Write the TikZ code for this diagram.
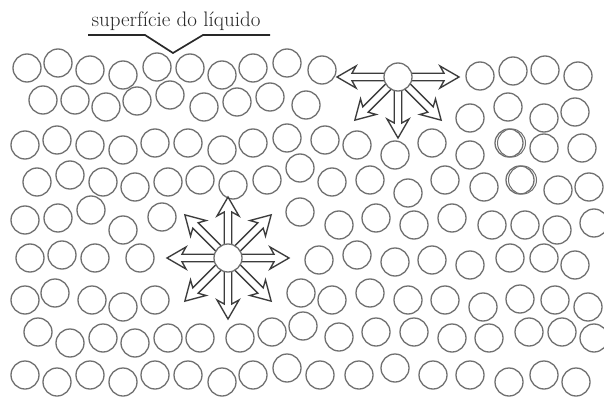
\documentclass[tikz,border=0pt]{standalone}
\usepackage{fontspec}
\begin{document}
\begin{tikzpicture}[x=1pt,y=-1pt,
  molecule/.style={circle,draw=molgray,line width=1.3pt,minimum size=28pt,inner sep=0pt},
  focusmol/.style={molecule,fill=white},
  arrowline/.style={draw=arrowgray,line width=1.35pt,fill=white,line join=miter},
  leader/.style={draw=textgray,line width=1.7pt,line join=miter},
  fatarrow/.pic={\path[arrowline] (8,3.8) -- (46,3.8) -- (42,11) -- (61,0) -- (42,-11) -- (46,-3.8) -- (8,-3.8) -- cycle;}]
\definecolor{molgray}{RGB}{112,112,112}
\definecolor{arrowgray}{RGB}{60,60,60}
\definecolor{textgray}{RGB}{40,40,40}
\useasboundingbox[fill=white] (0,0) rectangle (604,398);

% caption above the surface with its leader line
\node[anchor=base,text=textgray,font=\fontsize{21}{25}\selectfont,inner sep=0pt] (label) at (176,27) {superfície do líquido};
\coordinate (l1) at (88,35);
\coordinate (l2) at (145,35);
\coordinate (l3) at (173,53);
\coordinate (l4) at (203,35);
\coordinate (l5) at (270,35);
\draw[leader] (l1) -- (l2) -- (l3) -- (l4) -- (l5);

% the molecules of the liquid
\foreach \px/\py [count=\i] in {
  27/68, 58/63, 90/70, 123/75, 157/67, 190/68, 222/75, 253/68, 287/63, 322/70, 480/76, 513/71, 545/70, 578/76,
  43/100, 75/100, 106/107, 137/101, 170/95, 204/107, 237/102, 270/97, 306/105, 470/118, 508/107, 544/118, 575/112,
  25/145, 57/140, 90/145, 123/150, 155/143, 188/143, 222/150, 253/143, 287/138, 325/140, 357/145, 395/155, 432/143, 470/155, 509/143, 544/148, 582/148,
  37/182, 70/175, 103/182, 135/187, 168/182, 200/180, 233/185, 267/180, 300/168, 332/182, 370/180, 408/193, 445/180, 484/187, 520/180, 558/190, 589/187,
  25/220, 58/218, 91/210, 123/230, 162/217, 300/212, 339/225, 376/218, 414/225, 452/218, 492/225, 525/225, 557/230, 594/223,
  30/258, 62/255, 95/258, 140/258, 319/260, 357/255, 395/262, 432/260, 470/265, 510/258, 544/258, 575/265,
  25/300, 55/293, 92/300, 123/307, 155/300, 301/293, 332/300, 370/293, 408/300, 445/300, 483/307, 520/299, 555/300, 588/307,
  38/332, 70/343, 103/338, 135/343, 168/338, 200/338, 240/338, 272/332, 303/326, 339/337, 376/332, 414/332, 452/338, 489/338, 529/332, 562/332, 594/338,
  25/375, 57/382, 90/375, 123/382, 155/375, 188/375, 222/382, 253/375, 287/368, 320/375, 359/375, 395/368, 433/375, 470/375, 509/382, 544/375, 576/382}
  \node[molecule] (m\i) at (\px,\py) {};

% two molecules drawn with a slightly doubled outline
\node[molecule,line width=1pt] (d1) at (511.5,143) {};
\node[molecule,line width=1pt] (d2) at (522.5,180) {};

% molecule at the surface: forces only sideways and downwards
\coordinate (cs) at (398,77);
\foreach \a in {0,180,-90,-45,-135}
  \path (cs) pic[rotate=\a] {fatarrow};
\node[focusmol] (surf) at (cs) {};

% molecule inside the liquid: forces in every direction
\coordinate (ci) at (228,258);
\foreach \a in {0,45,90,135,180,-135,-90,-45}
  \path (ci) pic[rotate=\a] {fatarrow};
\node[focusmol] (inner) at (ci) {};
\end{tikzpicture}
\end{document}
